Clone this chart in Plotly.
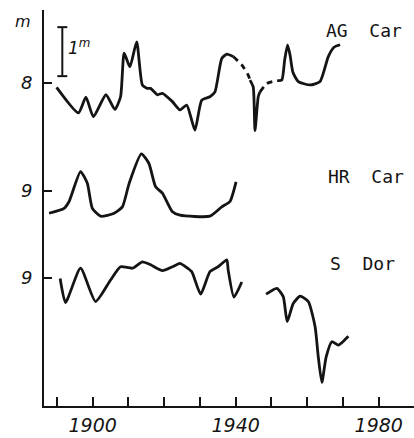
import plotly.graph_objects as go

# ---------------- data ----------------
# AG Car: year, magnitude; ag_dash[i] = True if the segment from point i to i+1 is dashed
ag_year = [1889.9, 1896.0, 1898.1, 1900.2, 1903.7, 1906.2, 1907.8, 1908.8, 1910.4, 1912.3,
           1913.9, 1915.3, 1916.2, 1918.1, 1919.5, 1922.3, 1924.4, 1926.3, 1928.6, 1930.5,
           1932.8, 1934.2, 1936.1, 1937.5, 1939.3, 1941.7, 1943.5, 1944.0, 1944.9, 1945.4,
           1946.3, 1946.8, 1948.7, 1951.6, 1952.9, 1953.7, 1954.5, 1955.2, 1956.0, 1957.5,
           1960.8, 1963.6, 1965.9, 1967.5, 1969.2]
ag_mag = [8.09, 8.61, 8.29, 8.69, 8.24, 8.54, 8.28, 7.39, 7.67, 7.16,
          8.04, 8.11, 8.11, 8.24, 8.21, 8.38, 8.55, 8.45, 8.96, 8.35,
          8.28, 8.18, 7.50, 7.41, 7.46, 7.63, 7.84, 7.94, 8.08, 8.97,
          8.28, 8.18, 8.01, 7.95, 7.94, 7.53, 7.22, 7.43, 7.78, 7.97,
          8.04, 7.97, 7.46, 7.27, 7.22]
ag_dash = [False] * 24 + [True] * 3 + [False] * 4 + [True] * 2 + [False] * 12

hr_year = [1887.8, 1892.0, 1893.4, 1896.6, 1898.5, 1899.9, 1902.2, 1906.0, 1908.3, 1910.2,
           1913.6, 1915.7, 1917.6, 1919.5, 1922.3, 1924.4, 1932.8, 1936.1, 1938.4, 1940.1]
hr_mag = [9.46, 9.36, 9.22, 8.61, 8.85, 9.36, 9.52, 9.46, 9.33, 8.85,
          8.25, 8.44, 8.92, 9.05, 9.43, 9.50, 9.52, 9.33, 9.22, 8.82]

sd1_year = [1890.9, 1892.4, 1896.6, 1900.8, 1905.0, 1907.8, 1911.1, 1913.9, 1916.2, 1919.5,
            1922.3, 1924.4, 1925.8, 1927.7, 1930.2, 1932.8, 1935.1, 1937.5, 1937.9, 1939.5, 1941.7]
sd1_mag = [9.01, 9.50, 8.80, 9.48, 9.04, 8.77, 8.80, 8.67, 8.73, 8.85,
           8.77, 8.70, 8.76, 8.87, 9.33, 8.87, 8.77, 8.63, 8.84, 9.39, 9.08]
sd2_year = [1948.5, 1951.5, 1953.3, 1954.4, 1956.1, 1958.0, 1960.3, 1962.2, 1963.1, 1964.1,
            1965.3, 1966.9, 1968.7, 1970.4, 1971.5]
sd2_mag = [9.33, 9.21, 9.38, 9.89, 9.52, 9.37, 9.48, 9.99, 10.61, 11.13,
           10.61, 10.30, 10.37, 10.27, 10.19]

star_names = ["AG\u00a0Car", "HR\u00a0Car", "S\u00a0Dor"]
star_offsets = [0.0, 1.198, 2.98]          # vertical shift of each light curve
star_ref_mag = [8, 9, 9]                    # labelled magnitude on the left axis
x_ticks = list(range(1890, 1990, 10))
x_tick_labels = ["" if y not in (1900, 1940, 1980) else str(y) for y in x_ticks]

INK = "#141414"
FONT = "DejaVu Sans"
LW = 2.8

fig = go.Figure()


def add_curve(xs, ys, off, dash="solid"):
    fig.add_trace(go.Scatter(
        x=xs, y=[v + off for v in ys], mode="lines",
        line=dict(color=INK, width=LW, shape="spline", smoothing=0.55, dash=dash),
        showlegend=False, hoverinfo="skip"))


# AG Car, split into solid / dashed pieces
start = 0
for i in range(1, len(ag_dash) + 1):
    if i == len(ag_dash) or ag_dash[i] != ag_dash[start]:
        add_curve(ag_year[start:i + 1], ag_mag[start:i + 1], star_offsets[0],
                  "6px,5px" if ag_dash[start] else "solid")
        start = i

add_curve(hr_year, hr_mag, star_offsets[1])
add_curve(sd1_year, sd1_mag, star_offsets[2])
add_curve(sd2_year, sd2_mag, star_offsets[2])

# scale bar (1 magnitude)
bar_x, bar_top = 1891.5, 6.86
fig.add_shape(type="line", x0=bar_x, x1=bar_x, y0=bar_top, y1=bar_top + 1,
              line=dict(color=INK, width=2))
for yy in (bar_top, bar_top + 1):
    fig.add_shape(type="line", x0=bar_x - 1.4, x1=bar_x + 1.4, y0=yy, y1=yy,
                  line=dict(color=INK, width=2))

ann_font = dict(family=FONT, size=17, color=INK, style="italic")
fig.add_annotation(x=1896.2, y=7.27, text="1<sup>m</sup>", showarrow=False, font=ann_font)
fig.add_annotation(xref="paper", yref="paper", x=-0.058, y=0.97, text="m",
                   xanchor="center", yanchor="middle",
                   showarrow=False, font=dict(family=FONT, size=16, color=INK, style="italic"))

label_pos = [(1975.9, 6.92), (1976.5, 9.91), (1975.6, 11.69)]
for name, (lx, ly) in zip(star_names, label_pos):
    fig.add_annotation(x=lx, y=ly, text=name.replace("\u00a0", "\u00a0\u00a0"), showarrow=False,
                       xanchor="center", yanchor="middle",
                       font=dict(family="DejaVu Sans Mono", size=18, color=INK))

fig.update_layout(
    width=414, height=438,
    margin=dict(l=44, r=0, t=10, b=32),
    paper_bgcolor="white", plot_bgcolor="white",
    showlegend=False,
)
fig.update_xaxes(
    range=[1886.38, 1989.87], showgrid=False, zeroline=False,
    showline=True, linewidth=2, linecolor=INK,
    tickvals=x_ticks, ticktext=x_tick_labels,
    ticks="inside", ticklen=9, tickwidth=2, tickcolor=INK,
    tickfont=dict(family=FONT, size=19, color=INK, style="italic"),
    ticklabelstandoff=1,
)
fig.update_yaxes(
    range=[14.592, 6.51], showgrid=False, zeroline=False,
    showline=True, linewidth=2, linecolor=INK,
    tickvals=[m + off for m, off in zip(star_ref_mag, star_offsets)],
    ticktext=[str(m) for m in star_ref_mag],
    ticks="inside", ticklen=8, tickwidth=2, tickcolor=INK,
    tickfont=dict(family=FONT, size=18, color=INK, style="italic"),
    ticklabelstandoff=6,
)

fig.write_html("out.html", config={"displayModeBar": False},
               post_script="document.body.style.margin='0';")
